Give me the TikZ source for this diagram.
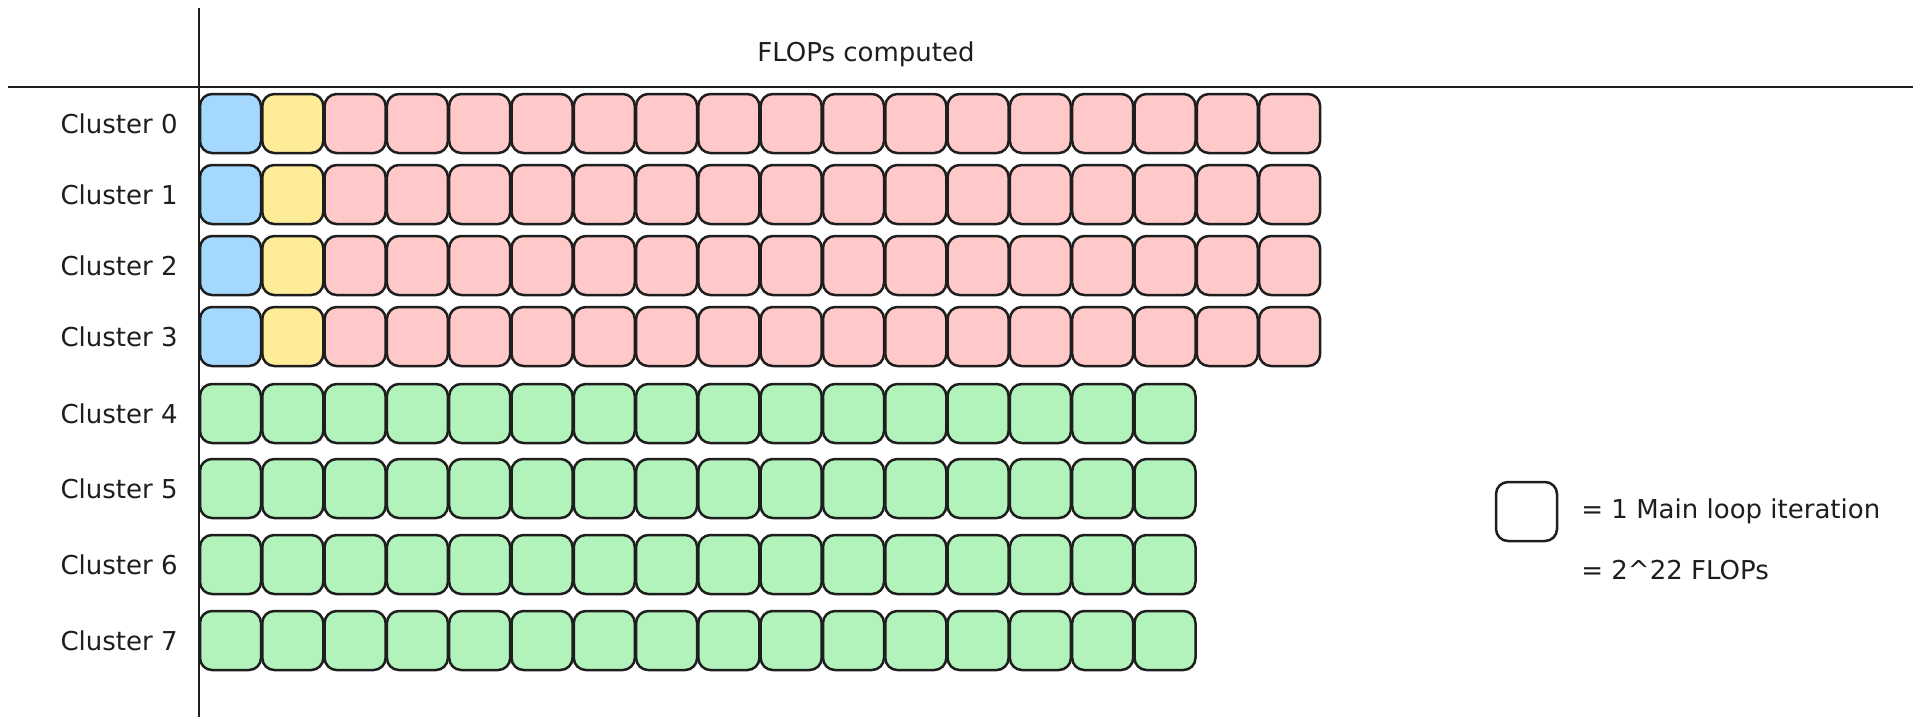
\documentclass[tikz,border=0pt]{standalone}
\usepackage{fontspec}
\setmainfont{DejaVu Sans}
\usetikzlibrary{positioning}

\definecolor{ink}{HTML}{1E1E1E}
\definecolor{iterblue}{HTML}{A5D8FF}
\definecolor{iteryellow}{HTML}{FFEC99}
\definecolor{iterred}{HTML}{FFC9C9}
\definecolor{itergreen}{HTML}{B2F2BB}

\tikzset{
  iter/.style={draw=ink, line width=1.25pt, rounded corners=6pt, minimum width=30.5pt,
    minimum height=29.5pt, inner sep=0pt, outer sep=0pt, anchor=north west},
  clusterlabel/.style={font=\fontsize{13pt}{15pt}\selectfont, text=ink, inner sep=0pt},
  axis/.style={draw=ink, line width=1.3pt}
}

\begin{document}
\begin{tikzpicture}[x=0.5pt,y=-0.5pt]
\useasboundingbox (0,0) rectangle (1920,725);

\coordinate (ytop) at (199,8);
\coordinate (ybot) at (199,717);
\coordinate (xleft) at (8,87);
\coordinate (xright) at (1913,87);
\draw [axis] (ytop) -- (ybot);
\draw [axis] (xleft) -- (xright);

\node [clusterlabel] (title) at (866,54) {FLOPs computed};

% clusters 0-3: 18 iterations
\foreach \r/\ytop in {0/94,1/165,2/236,3/307}{
  \node [iter, fill=iterblue] (c\r-0) at (200,\ytop) {};
  \node [iter, fill=iteryellow] (c\r-1) at (262.3,\ytop) {};
  \foreach \i in {2,...,17}
    \node [iter, fill=iterred] (c\r-\i) at ({200+62.3*\i},\ytop) {};
  \node [clusterlabel, left=11pt of c\r-0] (lab\r) {Cluster \r};
}

% clusters 4-7: 16 iterations
\foreach \r/\ytop in {4/384,5/459,6/535,7/611}{
  \foreach \i in {0,...,15}
    \node [iter, fill=itergreen] (c\r-\i) at ({200+62.3*\i},\ytop) {};
  \node [clusterlabel, left=11pt of c\r-0] (lab\r) {Cluster \r};
}

% legend
\node [iter, fill=white] (key) at (1496,482) {};
\node [clusterlabel, right=12pt of key] (keyiter) {= 1 Main loop iteration};
\node [clusterlabel, anchor=west] (keyflops) at (keyiter.west |- 0,570) {= 2\textasciicircum 22 FLOPs};

\end{tikzpicture}
\end{document}
